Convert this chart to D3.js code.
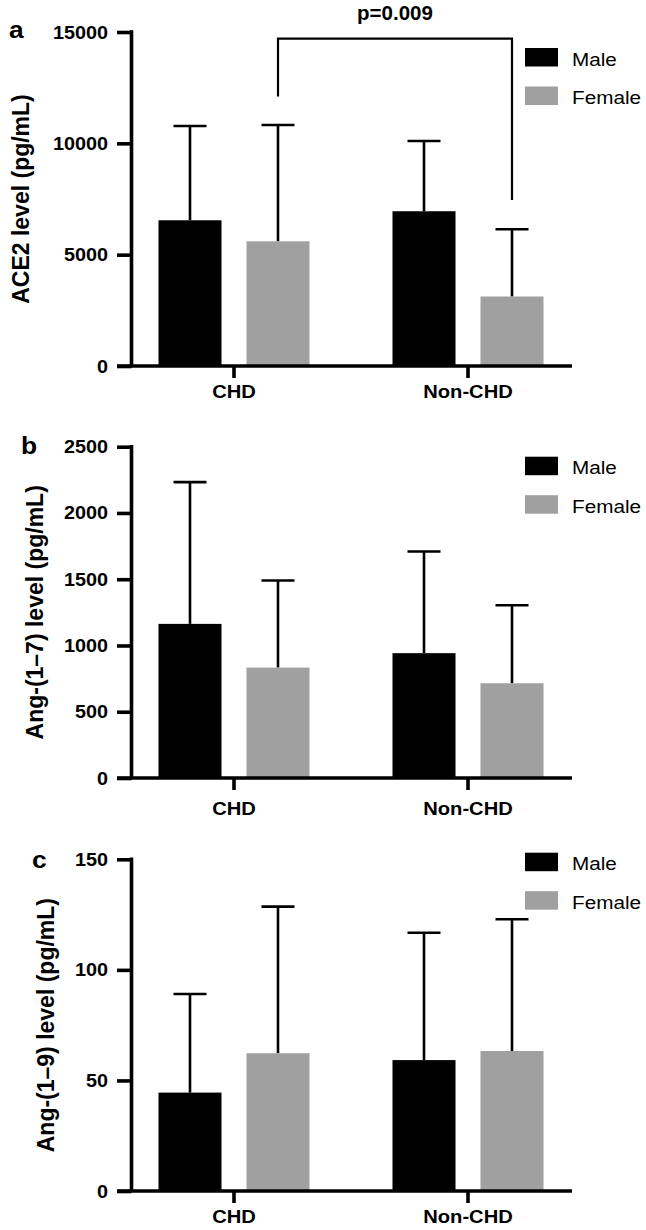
<!DOCTYPE html>
<html>
<head>
<meta charset="utf-8">
<script src="https://cdn.jsdelivr.net/npm/d3@7"></script>
<style>
html,body{margin:0;padding:0;background:#fff;}
svg{display:block;}
text{font-family:"Liberation Sans",Arial,Helvetica,sans-serif;fill:#000;}
</style>
</head>
<body>
<svg id="chart" width="646" height="1230"></svg>
<script>
// ---------- DATA ----------
const categories = ["CHD", "Non-CHD"];
const seriesNames = ["Male", "Female"];

// Panel a: ACE2 level (pg/mL)
const ace2MaleMean   = [6545, 6950];
const ace2MaleSD     = [4234, 3154];
const ace2FemaleMean = [5600, 3122];
const ace2FemaleSD   = [5224, 3018];
const ace2Ticks      = [0, 5000, 10000, 15000];

// Panel b: Ang-(1–7) level (pg/mL)
const ang17MaleMean   = [1163, 942];
const ang17MaleSD     = [1070, 767];
const ang17FemaleMean = [833, 715];
const ang17FemaleSD   = [657, 589];
const ang17Ticks      = [0, 500, 1000, 1500, 2000, 2500];

// Panel c: Ang-(1–9) level (pg/mL)
const ang19MaleMean   = [44.5, 59.2];
const ang19MaleSD     = [44.6, 57.6];
const ang19FemaleMean = [62.3, 63.3];
const ang19FemaleSD   = [66.3, 59.6];
const ang19Ticks      = [0, 50, 100, 150];

// Significance annotation (panel a): CHD Female vs Non-CHD Female
const sigLabel = "p=0.009";
const sigTop = 14700, sigLeftEnd = 12100, sigRightEnd = 7450;

// ---------- LAYOUT ----------
const colors = {Male: "#000000", Female: "#a0a0a0"};
const panels = [
  {letter: "a", title: "ACE2 level (pg/mL)", ticks: ace2Ticks,
   male: ace2MaleMean, maleSD: ace2MaleSD, female: ace2FemaleMean, femaleSD: ace2FemaleSD,
   yTop: 32, yZero: 366, legendY: 48, letterX: 9, letterY: 38, titleX: 29, catDy: 32, sig: true},
  {letter: "b", title: "Ang-(1\u20137) level (pg/mL)", ticks: ang17Ticks,
   male: ang17MaleMean, maleSD: ang17MaleSD, female: ang17FemaleMean, femaleSD: ang17FemaleSD,
   yTop: 446.7, yZero: 778, legendY: 456.7, letterX: 21, letterY: 454, titleX: 43, catDy: 37},
  {letter: "c", title: "Ang-(1\u20139) level (pg/mL)", ticks: ang19Ticks,
   male: ang19MaleMean, maleSD: ang19MaleSD, female: ang19FemaleMean, femaleSD: ang19FemaleSD,
   yTop: 859.3, yZero: 1191, legendY: 852.7, letterX: 32, letterY: 868, titleX: 54, catDy: 32}
];

const svg = d3.select("#chart");
const axisX = 131.5, tickLeft = 117, xAxisRight = 572;
const SX = 1.12; // horizontal stretch of text in the figure

const x0 = d3.scaleBand().domain(categories).range([117, 585]).paddingInner(0).paddingOuter(0);
const x1 = d3.scaleBand().domain(seriesNames).range([-75.5, 75.5]).paddingInner(0.284).paddingOuter(0);

function stretchedText(g, x, y, str, opts) {
  return g.append("text")
    .attr("transform", `translate(${x},${y}) scale(${opts.sx || SX},1)`)
    .attr("text-anchor", opts.anchor || "start")
    .attr("font-size", opts.size)
    .attr("font-weight", opts.weight || "bold")
    .text(str);
}

panels.forEach(p => {
  const g = svg.append("g");
  const yMax = p.ticks[p.ticks.length - 1];
  const y = d3.scaleLinear().domain([0, yMax]).range([p.yZero, p.yTop]);

  const rows = [];
  categories.forEach((c, i) => {
    rows.push({cat: c, s: "Male", v: p.male[i], sd: p.maleSD[i]});
    rows.push({cat: c, s: "Female", v: p.female[i], sd: p.femaleSD[i]});
  });
  const cx = d => x0(d.cat) + x0.bandwidth() / 2 + x1(d.s) + x1.bandwidth() / 2;

  // error bars (behind bars)
  const eb = g.append("g").attr("stroke", "#000").attr("stroke-width", 2.6).attr("fill", "none");
  rows.forEach(d => {
    const xc = cx(d);
    eb.append("line").attr("x1", xc).attr("x2", xc).attr("y1", y(d.v)).attr("y2", y(d.v + d.sd));
    eb.append("line").attr("x1", xc - 16.5).attr("x2", xc + 16.5).attr("y1", y(d.v + d.sd)).attr("y2", y(d.v + d.sd));
  });

  // bars
  g.append("g").selectAll("rect").data(rows).join("rect")
    .attr("x", d => x0(d.cat) + x0.bandwidth() / 2 + x1(d.s))
    .attr("width", x1.bandwidth())
    .attr("y", d => y(d.v))
    .attr("height", d => y(0) - y(d.v))
    .attr("fill", d => colors[d.s]);

  // y axis
  const yAxis = d3.axisLeft(y).tickValues(p.ticks).tickSize(axisX - tickLeft).tickPadding(0).tickFormat(d3.format("d"));
  const ya = g.append("g").attr("transform", `translate(${axisX},0)`).call(yAxis);
  ya.select(".domain").attr("stroke", "#000").attr("stroke-width", 3.6)
    .attr("d", `M0,${p.yTop - 1.8}V${p.yZero}`);
  ya.selectAll(".tick line").attr("stroke", "#000").attr("stroke-width", 3.6);
  ya.selectAll(".tick text").remove();
  p.ticks.forEach(t => {
    stretchedText(g, 108, y(t) + 6.5, d3.format("d")(t), {anchor: "end", size: 18, sx: 1.1});
  });

  // x axis
  g.append("line").attr("x1", tickLeft).attr("x2", xAxisRight)
    .attr("y1", p.yZero).attr("y2", p.yZero).attr("stroke", "#000").attr("stroke-width", 3.6);
  const xa = d3.axisBottom(x0).tickSize(12).tickPadding(0);
  const xg = g.append("g").attr("transform", `translate(0,${p.yZero})`).call(xa);
  xg.select(".domain").remove();
  xg.selectAll(".tick line").attr("stroke", "#000").attr("stroke-width", 3.6);
  xg.selectAll(".tick text").remove();
  categories.forEach(c => {
    stretchedText(g, x0(c) + x0.bandwidth() / 2, p.yZero + p.catDy, c, {anchor: "middle", size: 18, sx: 1.12});
  });

  // y title
  const midY = (p.yTop + p.yZero) / 2;
  g.append("text")
    .attr("transform", `translate(${p.titleX},${midY}) scale(1.05,1) rotate(-90)`)
    .attr("text-anchor", "middle")
    .attr("font-size", 23)
    .attr("font-weight", "bold")
    .text(p.title);

  // panel letter
  stretchedText(g, p.letterX, p.letterY, p.letter, {size: 24, sx: 1.1});

  // legend
  seriesNames.forEach((s, i) => {
    const ly = p.legendY + i * 38.5;
    g.append("rect").attr("x", 525).attr("y", ly).attr("width", 33).attr("height", 18.5).attr("fill", colors[s]);
    stretchedText(g, 572, ly + 17.5, s, {size: 18.5, weight: "normal", sx: 1.12});
  });

  // significance bracket
  if (p.sig) {
    const xl = x0("CHD") + x0.bandwidth() / 2 + x1("Female") + x1.bandwidth() / 2;
    const xr = x0("Non-CHD") + x0.bandwidth() / 2 + x1("Female") + x1.bandwidth() / 2;
    g.append("path")
      .attr("d", `M${xl},${y(sigLeftEnd)}V${y(sigTop)}H${xr}V${y(sigRightEnd)}`)
      .attr("fill", "none").attr("stroke", "#000").attr("stroke-width", 2.2);
    g.append("text").attr("x", (xl + xr) / 2).attr("y", 20)
      .attr("text-anchor", "middle").attr("font-size", 20.5).attr("font-weight", "bold")
      .text(sigLabel);
  }
});
</script>
</body>
</html>
